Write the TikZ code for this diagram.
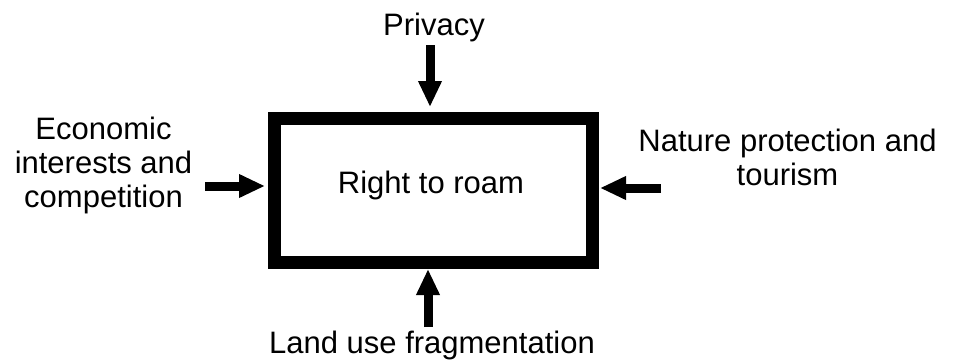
\documentclass[tikz,border=0pt]{standalone}
\usepackage{fontspec}
\setmainfont{Liberation Sans}
\usetikzlibrary{arrows.meta}
\begin{document}
\begin{tikzpicture}[x=1pt,y=-1pt,
  lbl/.style={font=\fontsize{31}{34}\selectfont, align=center, inner sep=0pt, anchor=base},
  fatarrow/.style={line width=9pt, -{Triangle[length=26pt,width=22pt]}},
  frame/.style={draw, line width=13pt, minimum width=318pt, minimum height=144pt, inner sep=0pt}]
\useasboundingbox (0,0) rectangle (956,360);
\node[frame] (box) at (433.5,190.5) {};
\node[lbl] (rtr) at (431,193) {Right to roam};
\node[lbl] (priv) at (434,35) {Privacy};
\node[lbl] (econ) at (103.5,207) {Economic\\interests and\\competition};
\node[lbl] (nat) at (787.5,185) {Nature protection and\\tourism};
\node[lbl] (land) at (432,353) {Land use fragmentation};
\coordinate (tTop) at (430,45);
\coordinate (tLeft) at (205,186);
\coordinate (tRight) at (661,188);
\coordinate (tBot) at (428,327);
\draw[fatarrow] (tTop) -- ([yshift=5pt]box.north -| tTop);
\draw[fatarrow] (tLeft) -- ([xshift=-3pt]box.west |- tLeft);
\draw[fatarrow] (tRight) -- ([xshift=1pt]box.east |- tRight);
\draw[fatarrow] (tBot) -- (box.south -| tBot);
\end{tikzpicture}
\end{document}
